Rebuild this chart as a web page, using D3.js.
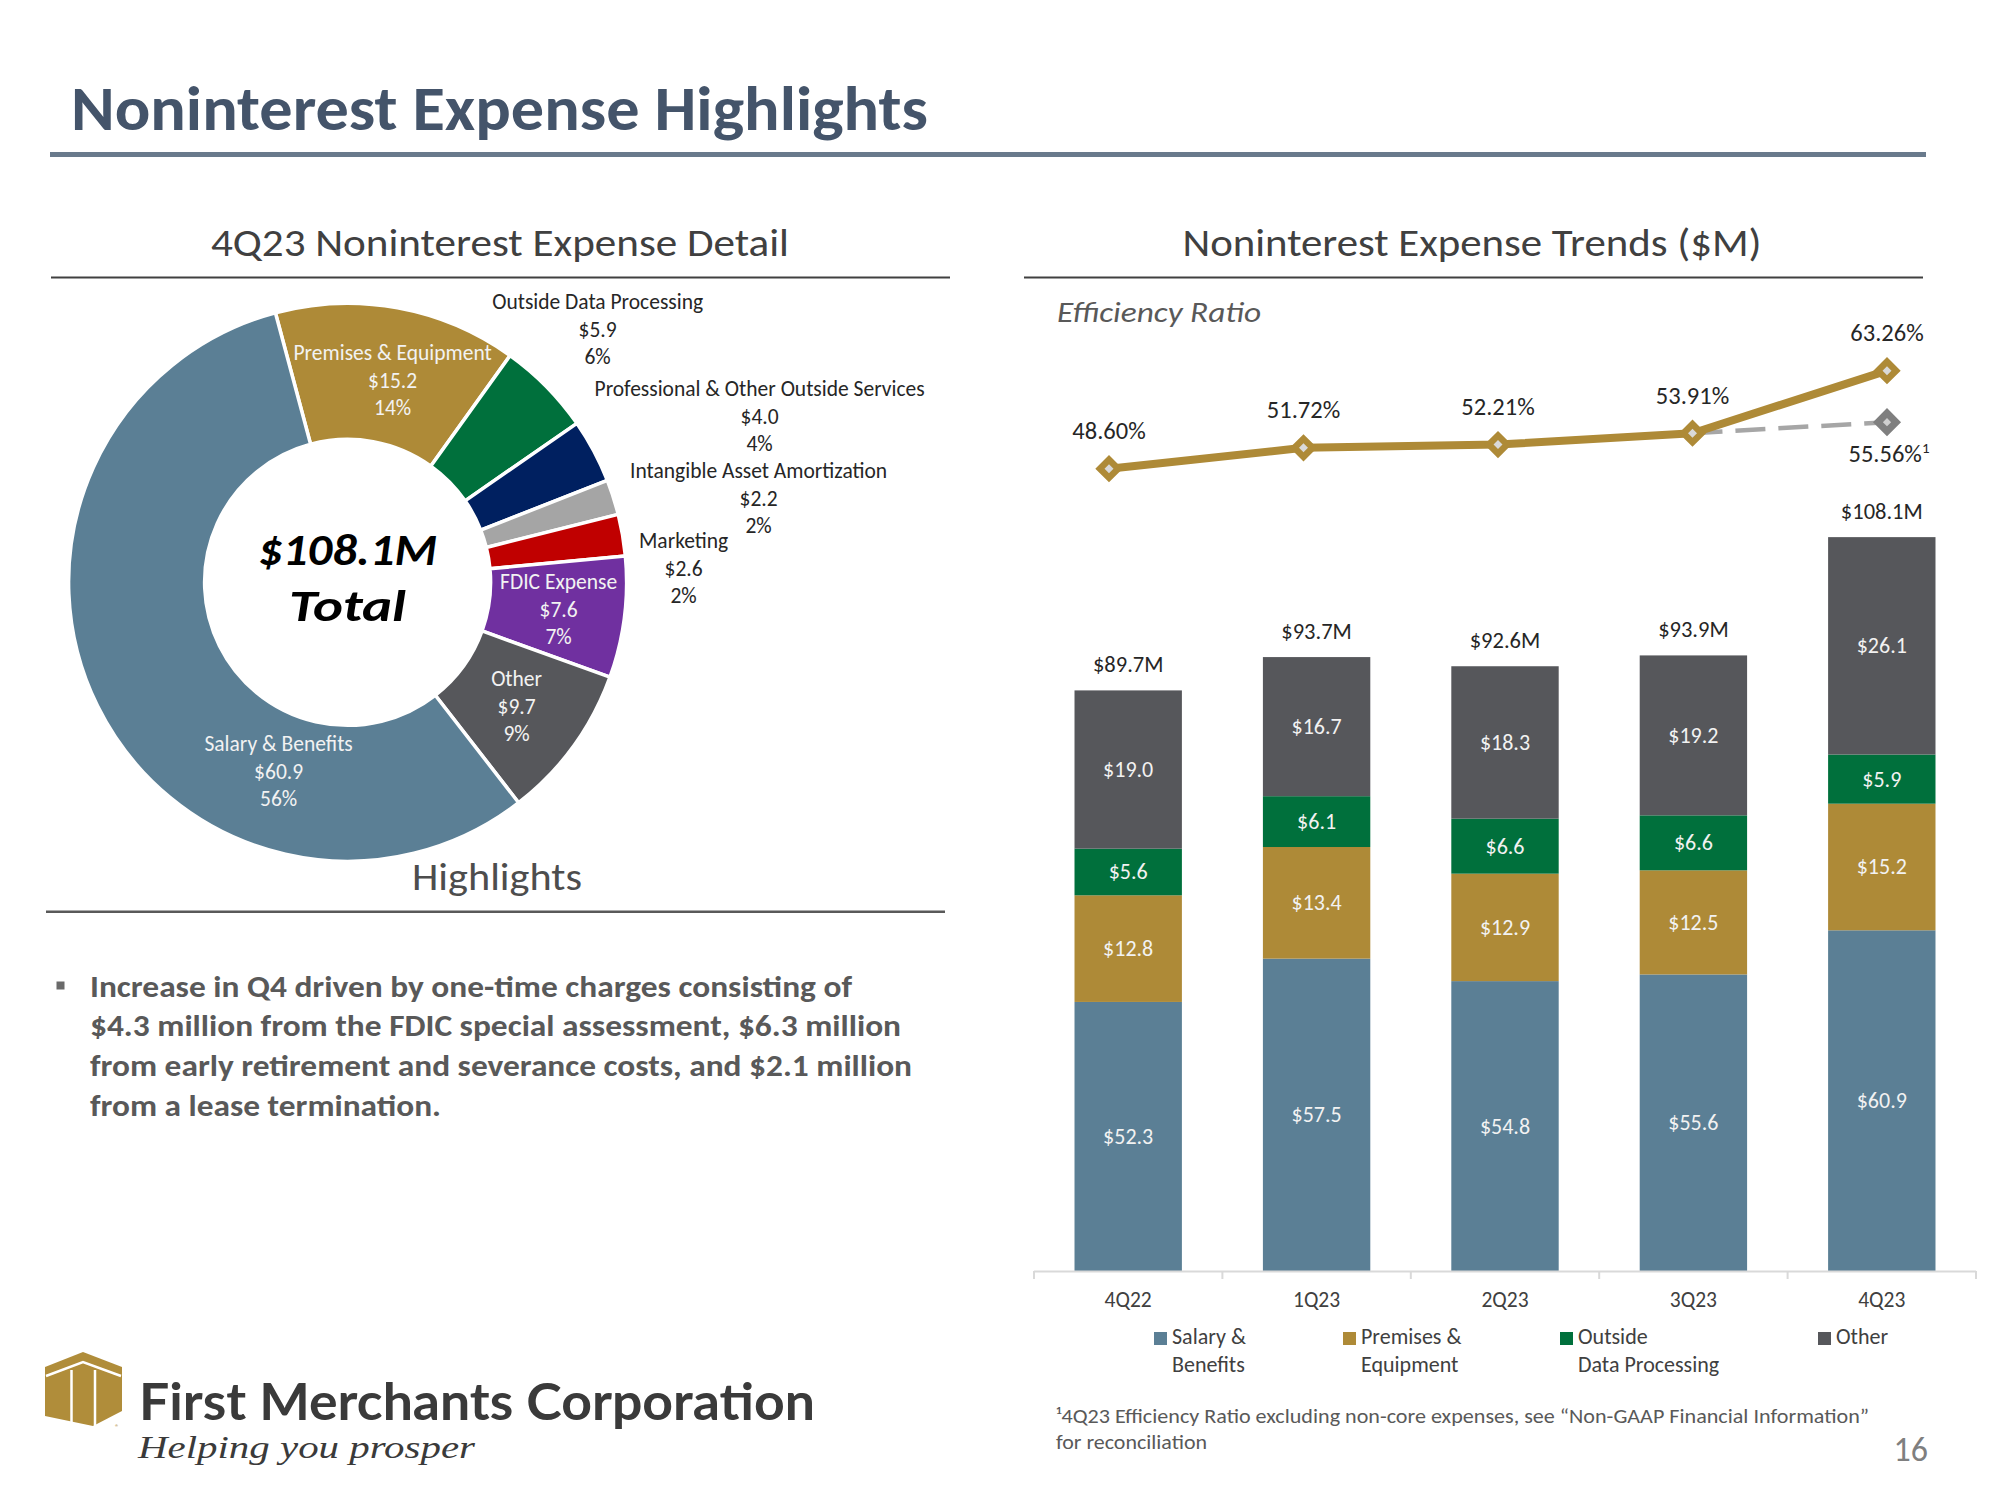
<!DOCTYPE html>
<html><head><meta charset="utf-8">
<script src="https://cdn.jsdelivr.net/npm/d3@7"></script>
<style>body{margin:0;background:#fff;} svg{display:block;}</style>
</head><body>
<svg id="chart" width="2000" height="1500"></svg>
<script>
// ---------------- DATA ----------------
const pieCategories = ["Premises & Equipment","Outside Data Processing","Professional & Other Outside Services","Intangible Asset Amortization","Marketing","FDIC Expense","Other","Salary & Benefits"];
const pieValues = [15.2, 5.9, 4.0, 2.2, 2.6, 7.6, 9.7, 60.9];
const piePercents = ["14%","6%","4%","2%","2%","7%","9%","56%"];
const pieCenterText = ["$108.1M","Total"];

const quarters = ["4Q22","1Q23","2Q23","3Q23","4Q23"];
const salaryBenefits = [52.3, 57.5, 54.8, 55.6, 60.9];
const premisesEquipment = [12.8, 13.4, 12.9, 12.5, 15.2];
const outsideDataProcessing = [5.6, 6.1, 6.6, 6.6, 5.9];
const otherExpense = [19.0, 16.7, 18.3, 19.2, 26.1];
const totalExpense = [89.7, 93.7, 92.6, 93.9, 108.1];
const efficiencyRatio = [48.60, 51.72, 52.21, 53.91, 63.26];
const adjustedEfficiency4Q23 = 55.56;
const legendLabels = [["Salary &","Benefits"],["Premises &","Equipment"],["Outside","Data Processing"],["Other"]];

const bulletLines = [
  "Increase in Q4 driven by one-time charges consisting of",
  "$4.3 million from the FDIC special assessment, $6.3 million",
  "from early retirement and severance costs, and $2.1 million",
  "from a lease termination."
];
const footnoteLines = ["\u00B94Q23 Efficiency Ratio excluding non-core expenses, see \u201CNon-GAAP Financial Information\u201D","for reconciliation"];

// ---------------- STYLE ----------------
const FONT = "Carlito, Calibri, Lato, 'Open Sans', sans-serif";
const pieColors = ["#AE8A37","#00703C","#002060","#A5A5A5","#C00000","#7030A0","#56575B","#5B7F95"];
const barKeys = ["salary","premises","odp","other"];
const barColors = {salary:"#5B7F95", premises:"#AE8A37", odp:"#00703C", other:"#56575B"};

const svg = d3.select("#chart");
svg.append("rect").attr("width",2000).attr("height",1500).attr("fill","#fff");

function T(parent, x, y, s, o = {}) {
  const t = parent.append("text").attr("x", x).attr("y", y).text(s)
    .attr("font-family", o.family || FONT)
    .attr("font-size", o.size || 20)
    .attr("font-weight", o.weight || 400)
    .attr("font-style", o.style || "normal")
    .attr("fill", o.fill || "#262626")
    .attr("text-anchor", o.anchor || "start");
  if (o.width) t.attr("textLength", o.width).attr("lengthAdjust", "spacingAndGlyphs");
  return t;
}

// ---------------- HEADER ----------------
T(svg, 71, 130, "Noninterest Expense Highlights", {size: 63, weight: 700, fill: "#44546A", width: 857});
svg.append("rect").attr("x", 50).attr("y", 152).attr("width", 1876).attr("height", 5).attr("fill", "#697A8C");

T(svg, 500, 256, "4Q23 Noninterest Expense Detail", {size: 39, fill: "#404040", anchor: "middle", width: 578});
svg.append("rect").attr("x", 51).attr("y", 276.5).attr("width", 899).attr("height", 2).attr("fill", "#404040");

T(svg, 1472, 256, "Noninterest Expense Trends ($M)", {size: 39, fill: "#404040", anchor: "middle", width: 579});
svg.append("rect").attr("x", 1024).attr("y", 276.5).attr("width", 899).attr("height", 2).attr("fill", "#404040");

// ---------------- DONUT ----------------
const cx = 347.6, cy = 582.3, R = 279, r = 143;
const start = -15 * Math.PI / 180;
const pie = d3.pie().sort(null).value(d => d).startAngle(start).endAngle(start + 2 * Math.PI);
const arc = d3.arc().innerRadius(r).outerRadius(R);
const dg = svg.append("g").attr("transform", `translate(${cx},${cy})`);
const arcs = pie(pieValues);
dg.selectAll("path.slice").data(arcs).join("path")
  .attr("class", "slice")
  .attr("d", arc)
  .attr("fill", (d, i) => pieColors[i])
  .attr("stroke", "#fff").attr("stroke-width", 3.5).attr("stroke-linejoin", "round");

// label anchor offsets (middle line) relative to donut centre
const pieLabelOffsets = [[45,-202],[250,-253],[412,-166],[411,-84],[336,-14],[211,27],[169,124],[-69,189]];
const insideLabel = [true,false,false,false,false,true,true,true];
arcs.forEach((a, i) => {
  const [dx, dy] = pieLabelOffsets[i];
  const lines = [pieCategories[i], "$" + pieValues[i].toFixed(1), piePercents[i]];
  const col = insideLabel[i] ? "#F2F2F2" : "#262626";
  lines.forEach((ln, k) => {
    T(dg, dx, dy + (k - 1) * 27.5 + 7.5, ln, {size: 21.5, fill: col, anchor: "middle"});
  });
});
T(dg, 0, 565 - cy, pieCenterText[0], {size: 45, weight: 700, style: "italic", fill: "#000", anchor: "middle", width: 179});
T(dg, 0, 621 - cy, pieCenterText[1], {size: 45, weight: 700, style: "italic", fill: "#000", anchor: "middle", width: 117});

// ---------------- HIGHLIGHTS ----------------
T(svg, 497, 890, "Highlights", {size: 38, fill: "#4D4D4D", anchor: "middle", width: 170});
svg.append("rect").attr("x", 46).attr("y", 910.5).attr("width", 899).attr("height", 2.5).attr("fill", "#595959");

svg.append("rect").attr("x", 56.5).attr("y", 981.5).attr("width", 8).attr("height", 8).attr("fill", "#6A6A6A");
const bulletWidths = [762, 811, 822, 351];
bulletLines.forEach((ln, i) => {
  T(svg, 90, 996.7 + i * 39.6, ln, {size: 31, weight: 700, fill: "#595959", width: bulletWidths[i]});
});

// ---------------- LOGO ----------------
const logo = svg.append("g");
logo.append("path")
  .attr("d", "M45,1367 L83,1352 L122,1367 L122,1411 L93,1426 L45,1416 Z")
  .attr("fill", "#B08D3A");
logo.append("path")
  .attr("d", "M46,1376 L83,1362 L121,1376")
  .attr("fill", "none").attr("stroke", "#fff").attr("stroke-width", 2.5);
logo.append("path").attr("d", "M71.5,1370 L71.5,1422").attr("stroke", "#fff").attr("stroke-width", 2.5);
logo.append("path").attr("d", "M95,1370 L95,1426").attr("stroke", "#fff").attr("stroke-width", 2.5);
T(svg, 117, 1430, "\u00AE", {size: 8, fill: "#B08D3A", anchor: "middle"});
T(svg, 139, 1420, "First Merchants Corporation", {family: "Lato, 'Open Sans', sans-serif", size: 52, weight: 700, fill: "#3A3A3A", width: 676});
T(svg, 138, 1458, "Helping you prosper", {family: "'Liberation Serif', 'DejaVu Serif', serif", size: 32, style: "italic", fill: "#3A3A3A", width: 337});

// ---------------- TREND CHART ----------------
T(svg, 1057, 322, "Efficiency Ratio", {size: 28, style: "italic", fill: "#595959", width: 204});

const x = d3.scaleBand().domain(quarters).range([1034, 1976]).paddingInner(0.43).paddingOuter(0.215);
const y = d3.scaleLinear().domain([20, 120]).range([1271, 438]).clamp(true);

const rows = quarters.map((q, i) => ({q, salary: salaryBenefits[i], premises: premisesEquipment[i], odp: outsideDataProcessing[i], other: otherExpense[i], total: totalExpense[i]}));
const stacked = d3.stack().keys(barKeys)(rows);

const bars = svg.append("g");
stacked.forEach(layer => {
  bars.selectAll(null).data(layer).join("rect")
    .attr("x", d => x(d.data.q))
    .attr("width", x.bandwidth())
    .attr("y", d => y(d[1]))
    .attr("height", d => y(d[0]) - y(d[1]))
    .attr("fill", barColors[layer.key]);
  layer.forEach(d => {
    const v = d[1] - d[0];
    T(bars, x(d.data.q) + x.bandwidth() / 2, (y(d[0]) + y(d[1])) / 2 + 7.5, "$" + v.toFixed(1), {size: 22, fill: "#F2F2F2", anchor: "middle"});
  });
});
rows.forEach(d => {
  T(bars, x(d.q) + x.bandwidth() / 2, y(d.total) - 18.5, "$" + d.total.toFixed(1) + "M", {size: 22.5, fill: "#262626", anchor: "middle"});
});

// x axis
const axisG = svg.append("g");
axisG.append("line").attr("x1", 1034).attr("x2", 1976).attr("y1", 1271.5).attr("y2", 1271.5).attr("stroke", "#D9D9D9").attr("stroke-width", 2);
const tickXs = quarters.map((q, i) => 1034 + i * x.step()).concat([1976]);
tickXs.forEach(tx => {
  axisG.append("line").attr("x1", tx).attr("x2", tx).attr("y1", 1271).attr("y2", 1279).attr("stroke", "#D9D9D9").attr("stroke-width", 2);
});
quarters.forEach(q => {
  T(axisG, x(q) + x.bandwidth() / 2, 1307, q, {size: 21.5, fill: "#404040", anchor: "middle"});
});

// efficiency line
const xl = d3.scalePoint().domain(quarters).range([1109, 1887]);
const yl = d3.scaleLinear().domain([40, 70]).range([526.2, 325.6]);
const lineG = svg.append("g");
const last = quarters.length - 1;
lineG.append("path")
  .attr("d", d3.line()([[xl(quarters[last - 1]), yl(efficiencyRatio[last - 1])], [xl(quarters[last]), yl(adjustedEfficiency4Q23)]]))
  .attr("fill", "none").attr("stroke", "#A6A6A6").attr("stroke-width", 4.5).attr("stroke-dasharray", "30,13");
lineG.append("path")
  .attr("d", d3.line().x((d, i) => xl(quarters[i])).y(d => yl(d))(efficiencyRatio))
  .attr("fill", "none").attr("stroke", "#AE8A37").attr("stroke-width", 8).attr("stroke-linejoin", "round");
const diamond = d3.symbol(d3.symbolSquare, 165)();
efficiencyRatio.forEach((v, i) => {
  lineG.append("path").attr("d", diamond)
    .attr("transform", `translate(${xl(quarters[i])},${yl(v)}) rotate(45)`)
    .attr("fill", "#D9D9D9").attr("stroke", "#AE8A37").attr("stroke-width", 6.5);
  T(lineG, xl(quarters[i]), yl(v) - 29.5, v.toFixed(2) + "%", {size: 24.5, fill: "#262626", anchor: "middle"});
});
lineG.append("path").attr("d", diamond)
  .attr("transform", `translate(${xl(quarters[last])},${yl(adjustedEfficiency4Q23)}) rotate(45)`)
  .attr("fill", "#CFCFCF").attr("stroke", "#7F7F7F").attr("stroke-width", 7);
const adjT = T(lineG, xl(quarters[last]) + 2, yl(adjustedEfficiency4Q23) + 40, adjustedEfficiency4Q23.toFixed(2) + "%", {size: 24.5, fill: "#262626", anchor: "middle"});
adjT.append("tspan").attr("font-size", 15).attr("dy", -9).text("1");

// legend
const legendX = [1154, 1343, 1560, 1818];
const legG = svg.append("g");
barKeys.forEach((k, i) => {
  legG.append("rect").attr("x", legendX[i]).attr("y", 1332).attr("width", 13).attr("height", 13).attr("fill", barColors[k]);
  legendLabels[i].forEach((ln, j) => {
    T(legG, legendX[i] + 18, 1344 + j * 28, ln, {size: 22, fill: "#404040"});
  });
});

// footnote and page number
T(svg, 1056, 1423, footnoteLines[0], {size: 21, fill: "#595959", width: 813});
T(svg, 1056, 1449, footnoteLines[1], {size: 21, fill: "#595959", width: 151});
T(svg, 1928, 1461, "16", {size: 34, fill: "#7F7F7F", anchor: "end"});
</script>
</body></html>
